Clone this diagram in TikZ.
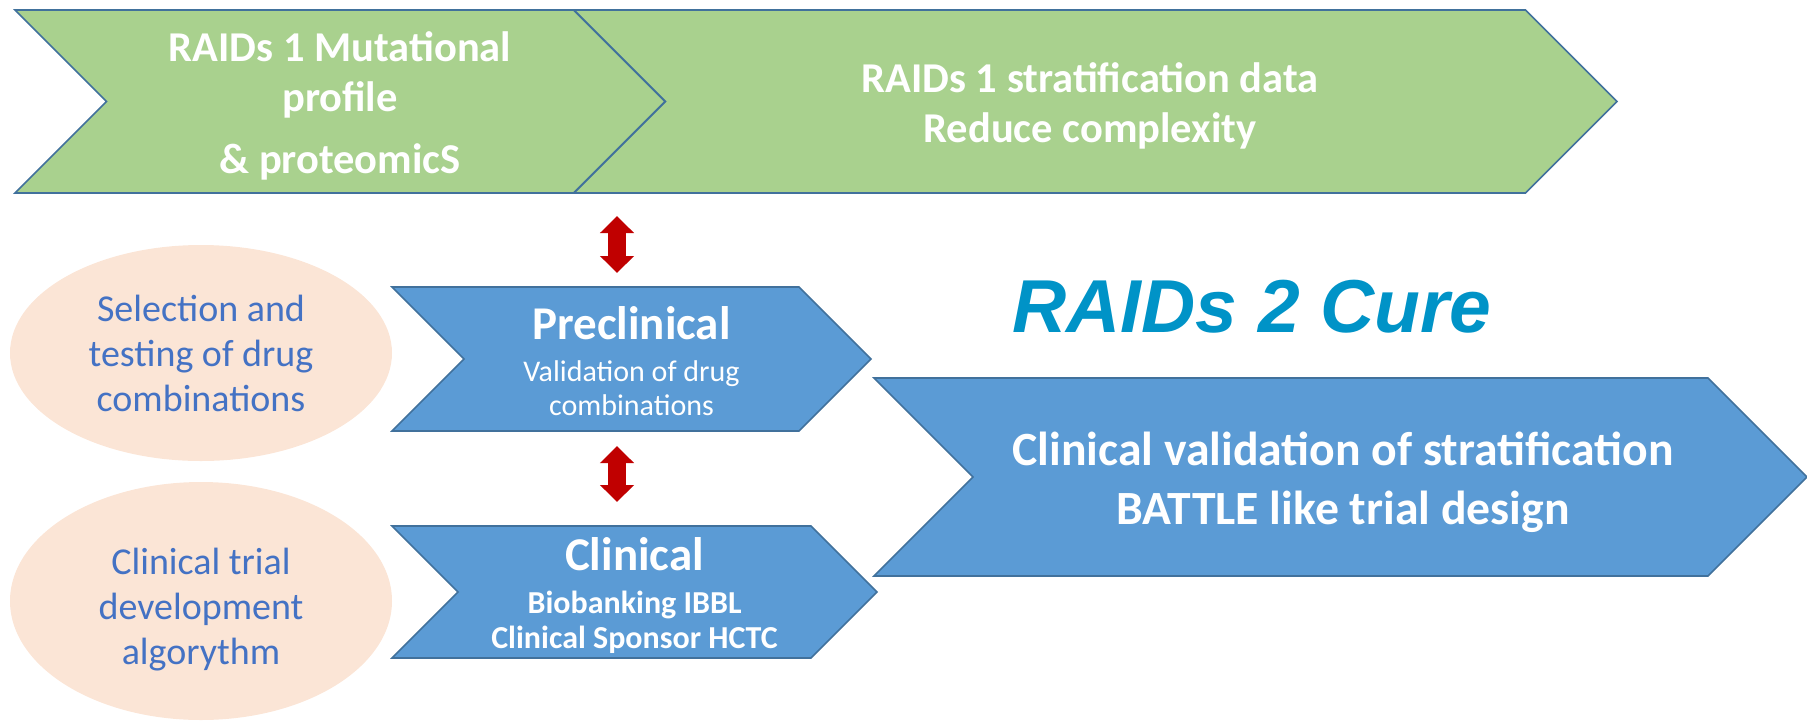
\documentclass[tikz,border=0pt]{standalone}
\usepackage{fontspec}
\setmainfont{Carlito}
\newfontfamily\titlefont{Liberation Sans}
\usepackage{tikz}
\usetikzlibrary{positioning,shapes.symbols,shapes.geometric,arrows.meta}

\definecolor{stepgreen}{HTML}{A9D18E}
\definecolor{stepblue}{HTML}{5B9BD5}
\definecolor{stepline}{HTML}{41719C}
\definecolor{bubble}{HTML}{FBE5D6}
\definecolor{bubbletext}{HTML}{4472C4}
\definecolor{titleblue}{RGB}{0,147,199}
\definecolor{arrowred}{HTML}{C00000}

\begin{document}
\begin{tikzpicture}[x=1pt,y=-1pt]
          %% RAIDs workflow

          \tikzstyle{chevron}=[shape=signal,signal from=west,signal to=east,signal pointer angle=90,draw=stepline,line width=1.6pt,inner sep=0pt]
          \tikzstyle{greenstep}=[chevron,fill=stepgreen]
          \tikzstyle{bluestep}=[chevron,fill=stepblue]
          \tikzstyle{steptext}=[text=white,align=center,inner sep=0pt]
          \tikzstyle{bubblenode}=[ellipse,fill=bubble,inner sep=0pt,minimum width=382pt]
          \tikzstyle{bubbletxt}=[text=bubbletext,align=center,inner sep=0pt,font=\fontsize{38}{45}\selectfont]
          \tikzstyle{dblarrow}=[{Triangle[width=33pt,length=17pt]}-{Triangle[width=33pt,length=17pt]},line width=18pt,draw=arrowred]

          \useasboundingbox (0,0) rectangle (1807,721);

          % bandeau du haut (RAIDs 1)
          \node[greenstep,minimum width=1043pt,minimum height=183pt] (strat) at (1095.5,101.5) {};
          \node[greenstep,minimum width=650pt,minimum height=183pt] (mutat) at (340,101.5) {};
          \node[steptext,font=\fontsize{42.5}{50}\selectfont\bfseries] (strat-txt) at (1090,105.5) {RAIDs 1 stratification data\\Reduce complexity};
          \node[steptext,font=\fontsize{42.5}{50}\selectfont\bfseries] (mutat-txt) at (340,106) {RAIDs 1 Mutational\\profile\\[12pt]\& proteomicS};

          % bulles a gauche
          \node[bubblenode,minimum height=216pt] (select) at (201,353) {};
          \node[bubblenode,minimum height=238pt] (design) at (201,601) {};
          \node[bubbletxt] (select-txt) at (201,353.5) {Selection and\\testing of drug\\combinations};
          \node[bubbletxt] (design-txt) at (201,610) {Clinical trial\\development\\algorythm};

          % etapes
          \node[bluestep,minimum width=479pt,minimum height=144pt] (precl) at (631.5,359) {};
          \node[bluestep,minimum width=485pt,minimum height=132pt] (clin) at (634.5,592) {};
          \node[bluestep,minimum width=933pt,minimum height=198pt] (cure) at (1340.5,477) {};

          \node[steptext,font=\fontsize{30}{34}\selectfont] (precl-txt) at (631.5,361)
                {{\fontsize{47}{47}\selectfont\bfseries Preclinical}\\[8pt]Validation of drug\\combinations};
          \node[steptext,font=\fontsize{32}{35}\selectfont\bfseries] (clin-txt) at (634.5,596)
                {{\fontsize{47}{47}\selectfont Clinical}\\[8pt]Biobanking IBBL\\Clinical Sponsor HCTC};
          \node[steptext,font=\fontsize{47.7}{59}\selectfont\bfseries] (cure-txt) at (1343,482)
                {Clinical validation of stratification\\BATTLE like trial design};

          % titre
          \node[anchor=base,text=titleblue,inner sep=0pt,font=\titlefont\fontsize{75}{75}\selectfont\bfseries\itshape] (title) at (1252,332) {RAIDs 2 Cure};

          % fleches rouges
          \coordinate (up1) at (617,216);
          \coordinate (dn1) at (617,273);
          \coordinate (up2) at (617,446);
          \coordinate (dn2) at (617,502);
          \draw[dblarrow] (up1) -- (dn1);
          \draw[dblarrow] (up2) -- (dn2);

\end{tikzpicture}
\end{document}
